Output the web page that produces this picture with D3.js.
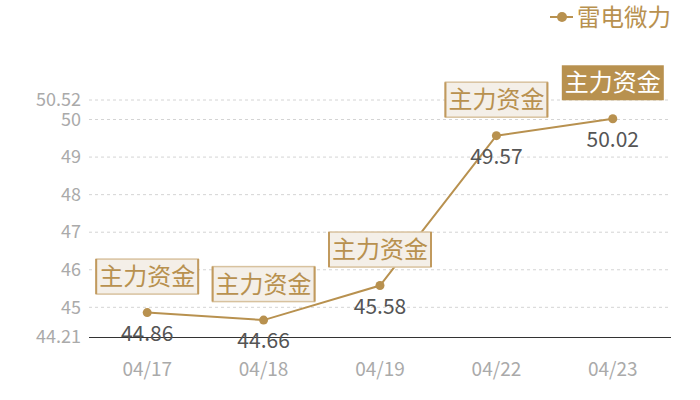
<!DOCTYPE html>
<html>
<head>
<meta charset="utf-8">
<script src="https://cdn.jsdelivr.net/npm/d3@7"></script>
<style>
  body { margin: 0; background: #fff; }
  svg text { font-family: "Noto Sans CJK SC", "Noto Sans", sans-serif; }
</style>
</head>
<body>
<div id="chart"></div>
<script>
const w = 700;
const h = 400;

// data
const dates = ["04/17", "04/18", "04/19", "04/22", "04/23"];
const prices = [44.86, 44.66, 45.58, 49.57, 50.02];
const tickVals = [44.21, 45, 46, 47, 48, 49, 50, 50.52];
const seriesName = "雷电微力";
const tagText = "主力资金";

const gold = "#b8914f";

var svg = d3.select("#chart")
            .append("svg")
            .attr("width", w)
            .attr("height", h);

var x = d3.scaleBand()
          .domain(dates)
          .range([89, 671]);

var y = d3.scaleLinear()
          .domain([44.21, 50.52])
          .range([337, 100]);

// grid
svg.append("g")
   .selectAll("line")
   .data(tickVals.filter(d => d !== 44.21))
   .enter()
   .append("line")
   .attr("x1", 89)
   .attr("x2", 671)
   .attr("y1", d => y(d))
   .attr("y2", d => y(d))
   .attr("stroke", "#d4d4d4")
   .attr("stroke-dasharray", "3,3");

// y axis labels
var yAxis = d3.axisLeft(y)
              .tickValues(tickVals)
              .tickSize(0)
              .tickPadding(8)
              .tickFormat(d => d);

svg.append("g")
   .attr("transform", "translate(89,0)")
   .call(yAxis)
   .call(g => g.select(".domain").remove())
   .selectAll("text")
   .attr("fill", "#aaaaaa")
   .style("font-size", "18px");

// x axis
var xAxis = d3.axisBottom(x).tickSize(0).tickPadding(26);

svg.append("g")
   .attr("transform", "translate(0,337)")
   .call(xAxis)
   .call(g => g.select(".domain").attr("stroke", "#333").attr("d", "M89,0.5H671"))
   .selectAll("text")
   .attr("fill", "#aaaaaa")
   .style("font-size", "19px");

var cx = (d, i) => x(dates[i]) + x.bandwidth() / 2;

// line
var line = d3.line()
             .x((d, i) => cx(d, i))
             .y(d => y(d));

svg.append("path")
   .datum(prices)
   .attr("d", line)
   .attr("fill", "none")
   .attr("stroke", gold)
   .attr("stroke-width", 2);

svg.append("g")
   .selectAll("circle")
   .data(prices)
   .enter()
   .append("circle")
   .attr("cx", cx)
   .attr("cy", d => y(d))
   .attr("r", 4.5)
   .attr("fill", gold);

// value labels
svg.append("g")
   .selectAll("text")
   .data(prices)
   .enter()
   .append("text")
   .attr("x", cx)
   .attr("y", d => y(d) + 28)
   .attr("text-anchor", "middle")
   .attr("fill", "#555")
   .style("font-size", "21px")
   .text(d => d.toFixed(2));

// tags
var tags = svg.append("g")
              .selectAll("g")
              .data(prices)
              .enter()
              .append("g")
              .attr("transform", (d, i) => "translate(" + cx(d, i) + "," + (y(d) - 36) + ")");

tags.append("rect")
    .attr("x", -51)
    .attr("y", -17.5)
    .attr("width", 102)
    .attr("height", 35)
    .attr("fill", (d, i) => i === prices.length - 1 ? gold : "#f4efe8")
    .attr("stroke", (d, i) => i === prices.length - 1 ? "none" : "#d8c29f")
    .attr("stroke-width", 1.5);

tags.filter((d, i) => i !== prices.length - 1)
    .append("path")
    .attr("d", "M-51,-17.5V17.5M51,-17.5V17.5")
    .attr("stroke", "#c19a5e")
    .attr("stroke-width", 2);

tags.append("text")
    .attr("y", 8.5)
    .attr("text-anchor", "middle")
    .attr("fill", (d, i) => i === prices.length - 1 ? "#fff" : gold)
    .style("font-size", "24px")
    .text(tagText);

// legend
var legend = svg.append("g").attr("transform", "translate(550,17)");

legend.append("line")
      .attr("x1", 0).attr("x2", 23)
      .attr("stroke", gold).attr("stroke-width", 2);

legend.append("circle")
      .attr("cx", 12).attr("r", 5)
      .attr("fill", gold);

legend.append("text")
      .attr("x", 27)
      .attr("y", 8.5)
      .attr("fill", gold)
      .style("font-size", "23.5px")
      .text(seriesName);
</script>
</body>
</html>
